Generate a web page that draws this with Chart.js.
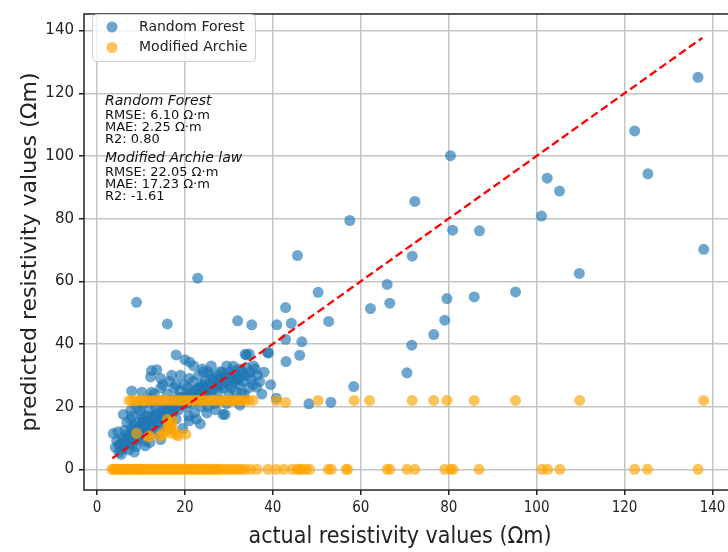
<!DOCTYPE html>
<html>
<head>
<meta charset="utf-8">
<script src="https://cdn.jsdelivr.net/npm/chart.js@4.4.1/dist/chart.umd.min.js"></script>
<style>
  html, body { margin: 0; padding: 0; overflow: hidden; background: #fff; }
  #wrap { width: 740px; height: 552px; }
</style>
</head>
<body>
<div id="wrap"><canvas id="myChart" width="740" height="552"></canvas></div>
<script>
// Random Forest: actual vs predicted
var rfActual = [
  136.7, 122.3, 125.3, 138.0, 80.4, 102.4, 105.2, 101.1, 72.3, 57.5, 80.9, 87.0, 71.7, 109.7, 66.0, 66.6,
  62.2, 79.6, 85.8, 95.2, 79.1, 76.6, 71.6, 70.5, 58.4, 53.2, 48.2, 45.6, 50.3, 42.9, 32.0, 35.2,
  40.9, 44.2, 52.7, 42.9, 46.6, 39.0, 43.0, 46.1, 34.0, 36.3, 40.8, 9.0, 16.0, 22.9, 18.0, 20.0,
  21.1, 12.4, 13.6, 14.5, 12.2, 33.7, 34.6, 38.8, 7.9, 10.2, 12.4, 24.2, 25.3, 28.0, 31.0, 32.1,
  32.9, 9.8, 7.7, 29.1, 3.7,
  4.2, 4.5, 5.0, 5.3, 5.8, 6.0, 4.8, 6.3, 5.5, 6.5, 7.0, 7.2, 7.5, 7.8, 8.0, 8.3,
  8.6, 8.8, 9.0, 6.8, 7.6, 9.3, 9.5, 10.0, 10.2, 10.5, 10.8, 11.0, 11.3, 11.5, 11.8, 12.0,
  9.0, 12.3, 12.6, 12.9, 13.2, 13.5, 13.8, 14.0, 14.3, 14.6, 14.9, 13.0, 14.5, 15.2, 15.5, 15.8,
  16.0, 16.3, 16.6, 16.9, 17.2, 17.5, 17.8, 18.0, 15.0, 16.5, 18.3, 18.6, 18.9, 19.2, 19.5, 19.8,
  20.0, 20.3, 20.6, 20.9, 19.0, 21.0, 21.3, 21.6, 21.9, 22.2, 22.5, 22.8, 23.1, 23.4, 23.7, 24.0,
  22.0, 22.6, 24.3, 24.6, 24.9, 25.2, 25.5, 25.8, 26.1, 26.4, 26.7, 27.0, 26.0, 27.3, 27.6, 27.9,
  28.2, 28.5, 28.8, 29.1, 29.7, 30.0, 29.5, 28.7, 30.3, 30.6, 30.9, 31.5, 31.8, 32.4, 33.0, 31.0,
  33.3, 34.0, 34.5, 35.0, 35.5, 36.0, 36.5, 37.0, 38.0, 37.5, 39.5, 10.5, 12.0, 17.0, 23.5, 27.0,
  32.5, 11.0, 14.5, 6.0, 8.0,
  5.0, 6.0, 6.8, 7.5, 8.2, 9.0, 9.6, 10.3, 10.8, 11.5, 12.2, 12.8, 13.3, 14.0, 14.6, 15.2,
  15.8, 16.4, 17.0, 17.6, 18.2, 18.8, 19.4, 20.0, 20.6, 21.2, 21.8, 22.4, 23.0, 23.6, 24.2, 24.8,
  25.4, 26.0, 26.6, 27.2, 27.8, 28.4, 29.0, 29.6, 30.2, 30.8, 31.4, 32.0, 32.6, 33.2, 34.0, 34.8,
  35.6, 13.0, 16.0, 21.0, 25.0, 29.5, 33.5, 10.0, 18.0, 24.0, 8.5, 12.0
];
var rfPred = [
  125.1, 108.0, 94.3, 70.2, 100.1, 92.9, 88.8, 80.8, 85.5, 79.4, 76.3, 76.1, 68.0, 62.5, 59.0, 53.0,
  51.3, 54.5, 55.0, 56.6, 47.6, 43.0, 39.6, 30.8, 26.4, 21.4, 20.9, 68.2, 56.5, 51.6, 47.4, 46.1,
  46.1, 46.6, 47.2, 41.5, 40.7, 37.1, 34.4, 36.4, 36.5, 26.2, 22.7, 53.3, 46.4, 61.0, 36.5, 35.0,
  34.2, 31.5, 31.8, 29.0, 29.5, 36.7, 36.8, 37.3, 25.0, 24.6, 24.6, 31.1, 31.1, 31.1, 32.9, 29.2,
  24.3, 18.7, 18.7, 17.5, 11.4,
  7.0, 9.0, 5.5, 8.0, 10.0, 6.5, 12.0, 12.5, 4.8, 8.0, 9.5, 6.2, 11.0, 13.0, 8.0, 10.0,
  14.0, 7.2, 12.0, 15.0, 16.0, 9.5, 15.0, 11.0, 13.0, 16.0, 9.0, 14.0, 17.0, 12.0, 19.0, 15.0,
  20.0, 11.0, 17.0, 13.5, 20.0, 15.0, 18.0, 12.0, 22.0, 16.0, 19.0, 24.0, 26.0, 14.0, 21.0, 17.0,
  24.0, 19.0, 15.0, 22.0, 18.0, 26.0, 20.0, 16.0, 27.0, 28.0, 23.0, 19.0, 25.0, 21.0, 13.0, 27.0,
  23.0, 20.0, 26.0, 17.0, 30.0, 29.0, 24.0, 21.0, 28.0, 18.0, 25.0, 22.0, 30.0, 26.0, 20.0, 27.0,
  33.0, 16.0, 23.0, 28.0, 25.0, 20.0, 30.0, 26.0, 23.0, 29.0, 21.0, 27.0, 33.0, 30.0, 25.0, 28.0,
  22.0, 31.0, 26.0, 29.0, 27.0, 24.0, 33.0, 17.5, 30.0, 26.0, 28.0, 25.0, 29.0, 27.0, 31.0, 22.0,
  28.0, 30.0, 26.0, 29.0, 27.0, 32.0, 30.0, 28.0, 31.0, 24.0, 27.0, 21.0, 22.5, 30.0, 14.5, 19.0,
  20.5, 7.5, 9.5, 17.5, 17.0,
  7.5, 9.0, 11.0, 8.5, 12.5, 10.0, 13.5, 15.0, 12.0, 15.5, 13.0, 16.0, 17.5, 15.0, 18.0, 17.0,
  20.0, 18.0, 21.0, 19.0, 22.0, 20.5, 23.0, 21.0, 24.0, 22.0, 25.0, 23.0, 26.0, 24.0, 26.5, 24.0,
  27.0, 25.0, 28.0, 26.0, 29.0, 27.0, 30.0, 28.0, 31.0, 29.5, 31.5, 28.5, 32.0, 30.0, 32.5, 31.0,
  33.0, 21.5, 13.0, 15.5, 18.0, 21.0, 24.0, 17.5, 27.0, 32.0, 5.5, 8.5
];

// Modified Archie law: actual vs predicted
var archieActual = [
  3.4, 3.8, 4.2, 4.6, 5.0, 5.4, 5.8, 6.2, 6.6, 7.0, 7.4, 7.8, 8.2, 8.6, 9.0, 9.4,
  9.8, 10.2, 10.6, 11.0, 11.5, 12.0, 12.5, 13.0, 13.5, 14.0, 14.5, 15.0, 15.5, 16.0, 16.5, 17.0,
  17.5, 18.0, 18.5, 19.0, 19.5, 20.0, 20.5, 21.0, 21.5, 22.0, 22.5, 23.0, 23.5, 24.0, 24.5, 25.0,
  25.5, 26.0, 26.5, 27.0, 27.5, 28.0, 28.7, 29.4, 30.1, 30.8, 31.5, 32.2, 33.0, 33.8, 35.0, 36.4,
  38.9, 40.8, 42.5, 44.4, 45.5, 46.1, 46.7, 47.6, 48.4, 52.6, 53.3, 56.7, 57.0, 66.0, 66.6, 70.5,
  72.3, 79.1, 80.5, 81.0, 86.9, 101.2, 102.5, 105.3, 122.3, 125.2, 136.7,
  7.3, 8.0, 8.8, 9.6, 10.4, 11.2, 12.0, 12.8, 13.6, 14.4, 15.2, 16.0, 16.8, 17.6, 18.4, 19.2,
  20.0, 20.8, 21.6, 22.4, 23.2, 24.0, 24.8, 25.6, 26.4, 27.2, 28.0, 28.8, 29.6, 30.4, 31.2, 32.0,
  32.8, 33.6, 34.5, 35.5, 40.8, 42.9, 50.3, 58.5, 62.0, 71.7, 76.6, 79.6, 85.8, 95.2, 109.8, 138.0,
  9.0, 11.7, 12.0, 14.3, 16.2, 16.6, 16.2, 16.9, 17.5, 15.5, 18.1, 18.5, 20.2, 15.0, 17.0, 16.0,
  17.2
];
var archiePred = [
  0, 0, 0, 0, 0, 0, 0, 0, 0, 0, 0, 0, 0, 0, 0, 0,
  0, 0, 0, 0, 0, 0, 0, 0, 0, 0, 0, 0, 0, 0, 0, 0,
  0, 0, 0, 0, 0, 0, 0, 0, 0, 0, 0, 0, 0, 0, 0, 0,
  0, 0, 0, 0, 0, 0, 0, 0, 0, 0, 0, 0, 0, 0, 0, 0,
  0, 0, 0, 0, 0, 0, 0, 0, 0, 0, 0, 0, 0, 0, 0, 0,
  0, 0, 0, 0, 0, 0, 0, 0, 0, 0, 0,
  22, 22, 22, 22, 22, 22, 22, 22, 22, 22, 22, 22, 22, 22, 22, 22,
  22, 22, 22, 22, 22, 22, 22, 22, 22, 22, 22, 22, 22, 22, 22, 22,
  22, 22, 22, 22, 22, 21.3, 22, 22, 22, 22, 22, 22, 22, 22, 22, 22,
  11.5, 10.3, 10.7, 10.5, 13.8, 13.3, 14.8, 14.2, 12.5, 12.0, 11.0, 10.7, 11.2, 11.0, 11.5, 16.0,
  15.5
];

// 1:1 reference line (min and max actual value)
var lineX = [3.5, 137.7];
var lineY = [3.5, 137.7];

var xTicks = [0, 20, 40, 60, 80, 100, 120, 140];
var yTicks = [0, 20, 40, 60, 80, 100, 120, 140];

var seriesNames = ['Random Forest', 'Modified Archie'];
var xTitle = 'actual resistivity values (\u03a9m)';
var statsRF = ['Random Forest', 'RMSE: 6.10 \u03a9\u00b7m', 'MAE: 2.25 \u03a9\u00b7m', 'R2: 0.80'];
var statsMA = ['Modified Archie law', 'RMSE: 22.05 \u03a9\u00b7m', 'MAE: 17.23 \u03a9\u00b7m', 'R2: -1.61'];

var blue = 'rgba(31, 119, 180, 0.65)';
var orange = 'rgba(255, 165, 0, 0.65)';
var sans = "'DejaVu Sans', sans-serif";
var narrow = "'DejaVu Sans Condensed', 'DejaVu Sans', sans-serif";

function toPoints(xs, ys) {
    return xs.map(function (x, i) { return { x: x, y: ys[i] }; });
}

// draws the frame, the x title, the stats text and the legend box
var overlay = {
    id: 'overlay',
    afterDatasetsDraw: function (chart) {
        var ctx = chart.ctx, a = chart.chartArea;
        ctx.save();
        ctx.strokeStyle = '#222';
        ctx.lineWidth = 1.5;
        ctx.strokeRect(a.left, a.top, a.right - a.left, a.bottom - a.top);
        ctx.restore();
    },
    afterDraw: function (chart) {
        var ctx = chart.ctx;
        ctx.save();

        // x axis title (centred on the visible part of the axis)
        ctx.fillStyle = '#222';
        ctx.font = '23px ' + narrow;
        ctx.textAlign = 'center';
        ctx.textBaseline = 'middle';
        ctx.fillText(xTitle, 400, 537);

        ctx.fillStyle = '#111';
        ctx.textAlign = 'left';
        var blocks = [[statsRF, 101], [statsMA, 158]];
        blocks.forEach(function (b) {
            var lines = b[0], y = b[1];
            ctx.font = 'italic 14px ' + sans;
            ctx.fillText(lines[0], 105, y);
            ctx.font = '13px ' + sans;
            for (var i = 1; i < lines.length; i++) {
                ctx.fillText(lines[i], 105, y + 3 + i * 11.8);
            }
        });

        // legend
        ctx.beginPath();
        ctx.roundRect(92.5, 14.5, 163, 47, 4);
        ctx.fillStyle = 'rgba(255,255,255,0.8)';
        ctx.fill();
        ctx.strokeStyle = '#d0d0d0';
        ctx.lineWidth = 1;
        ctx.stroke();
        var colors = [blue, orange];
        ctx.font = '14px ' + sans;
        seriesNames.forEach(function (name, i) {
            var y = 27 + i * 20.5;
            ctx.beginPath();
            ctx.arc(112, y, 5.5, 0, Math.PI * 2);
            ctx.fillStyle = colors[i];
            ctx.fill();
            ctx.fillStyle = '#222';
            ctx.fillText(name, 139, y);
        });
        ctx.restore();
    }
};

var ctx = document.getElementById('myChart').getContext('2d');

var myChart = new Chart(ctx, {
    type: 'scatter',
    data: {
        datasets: [{
            label: seriesNames[0],
            data: toPoints(rfActual, rfPred),
            backgroundColor: blue,
            borderWidth: 0,
            pointRadius: 5.5,
            order: 3
        }, {
            label: seriesNames[1],
            data: toPoints(archieActual, archiePred),
            backgroundColor: orange,
            borderWidth: 0,
            pointRadius: 5.5,
            order: 2
        }, {
            label: '1:1',
            data: toPoints(lineX, lineY),
            showLine: true,
            borderColor: '#ff0000',
            borderDash: [8, 4],
            borderWidth: 2.3,
            pointRadius: 0,
            fill: false,
            order: 1
        }]
    },
    options: {
        responsive: false,
        animation: false,
        layout: { padding: { top: 6, right: 5, bottom: 0, left: 0 } },
        plugins: {
            legend: { display: false },
            tooltip: { enabled: false }
        },
        scales: {
            x: {
                type: 'linear',
                min: -2.95,
                max: 145,
                afterBuildTicks: function (s) { s.ticks = xTicks.map(function (v) { return { value: v }; }); },
                afterFit: function (s) { s.height = 62; },
                ticks: { font: { family: narrow, size: 15 }, color: '#222', padding: 4, maxRotation: 0, autoSkip: false },
                grid: { color: '#c4c4c4', lineWidth: 1.5, tickLength: 5, tickColor: '#222', tickWidth: 1.5 },
                border: { display: false },
                title: { display: false }
            },
            y: {
                min: -6.6,
                max: 145.3,
                afterBuildTicks: function (s) { s.ticks = yTicks.map(function (v) { return { value: v }; }); },
                afterFit: function (s) { s.width = 84; },
                ticks: { font: { family: sans, size: 15 }, color: '#222', padding: 5 },
                grid: { color: '#c4c4c4', lineWidth: 1.5, tickLength: 5, tickColor: '#222', tickWidth: 1.5 },
                border: { display: false },
                title: {
                    display: true,
                    text: 'predicted resistivity values (\u03a9m)',
                    font: { family: sans, size: 22 },
                    color: '#222',
                    padding: { top: 17, bottom: 0 }
                }
            }
        }
    },
    plugins: [overlay]
});
</script>
</body>
</html>
